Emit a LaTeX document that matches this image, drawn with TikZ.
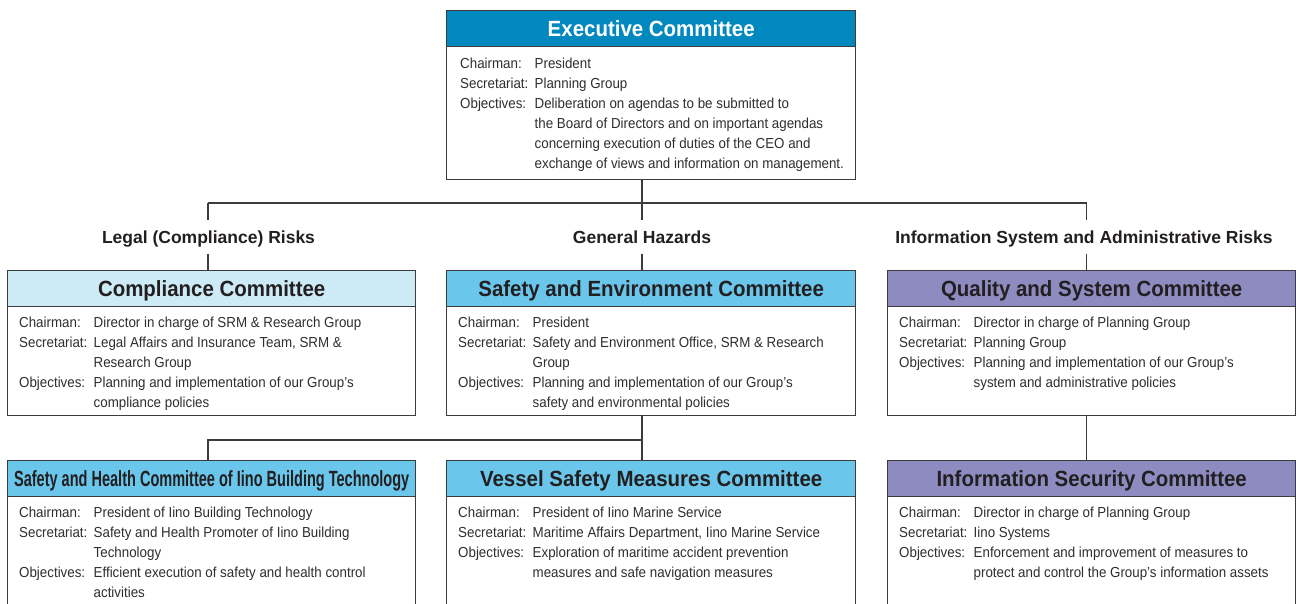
\documentclass[tikz,border=0pt]{standalone}
\usepackage{fontspec}
\usepackage{graphicx}
\setmainfont{Liberation Sans}
\newfontfamily\bodyfont{Liberation Sans}[FakeStretch=0.92]
\newfontfamily\headfont{Liberation Sans}[FakeStretch=0.93]

\definecolor{execblue}{HTML}{0088BF}
\definecolor{paleblue}{HTML}{CDEBF6}
\definecolor{skyblue}{HTML}{6AC7EB}
\definecolor{lavender}{HTML}{8D8BC0}
\definecolor{ink}{HTML}{231F20}
\definecolor{bodyink}{HTML}{2E2E2E}
\definecolor{rulegray}{HTML}{3C3C3C}

\tikzset{
  frame/.style={draw=rulegray, line width=1.4pt, fill=white, inner sep=0pt, anchor=north west},
  header/.style={draw=rulegray, line width=1.4pt, inner sep=0pt, anchor=north west,
    minimum height=36pt, text height=16pt, text depth=0pt,
    font=\headfont\bfseries\fontsize{22}{24}\selectfont},
  bodytext/.style={inner sep=0pt, anchor=base west, text=bodyink,
    font=\bodyfont\fontsize{14.5}{20}\selectfont},
  risk/.style={fill=white, inner sep=0pt, anchor=base, text height=23pt, text depth=10pt,
    text=ink, font=\bfseries\fontsize{17.5}{20}\selectfont},
  conn/.style={draw=rulegray, line width=1.4pt},
}

% offsets of the first text line from the header's lower left corner
\def\cmtdx{12}
\def\cmtdy{21}

% #1 name, #2 x, #3 y, #4 width, #5 height, #6 header fill, #7 title colour, #8 title, #9 rows
\newcommand{\committee}[9]{%
  \node[frame, minimum width=#4pt, minimum height=#5pt] (#1) at (#2,#3) {};
  \node[header, fill=#6, text=#7, minimum width=#4pt] (#1-head) at (#2,#3) {#8};
  \node[bodytext] (#1-text) at ([xshift=\cmtdx pt,yshift=-\cmtdy pt]#1-head.south west)
    {\begin{tabular}[t]{@{}p{74.5pt}@{}l@{}}#9\end{tabular}};
}

\begin{document}
\begin{tikzpicture}[x=1pt,y=-1pt]
\useasboundingbox (0,0) rectangle (1296,604);

% top level
\def\cmtdx{14}\def\cmtdy{21.5}
\committee{exec}{446}{10}{409}{169}{execblue}{white}{Executive Committee}{%
  Chairman: & President\\
  Secretariat: & Planning Group\\
  Objectives: & Deliberation on agendas to be submitted to\\
  & the Board of Directors and on important agendas\\
  & concerning execution of duties of the CEO and\\
  & exchange of views and information on management.}
\def\cmtdx{12}\def\cmtdy{20.5}

% second level
\committee{comp}{7}{270}{408}{145}{paleblue}{ink}{Compliance Committee}{%
  Chairman: & Director in charge of SRM \& Research Group\\
  Secretariat: & Legal Affairs and Insurance Team, SRM \&\\
  & Research Group\\
  Objectives: & Planning and implementation of our Group’s\\
  & compliance policies}

\committee{safe}{446}{270}{409}{145}{skyblue}{ink}{Safety and Environment Committee}{%
  Chairman: & President\\
  Secretariat: & Safety and Environment Office, SRM \& Research\\
  & Group\\
  Objectives: & Planning and implementation of our Group’s\\
  & safety and environmental policies}

\committee{qual}{887}{270}{408}{145}{lavender}{ink}{Quality and System Committee}{%
  Chairman: & Director in charge of Planning Group\\
  Secretariat: & Planning Group\\
  Objectives: & Planning and implementation of our Group’s\\
  & system and administrative policies}

% third level
\committee{shc}{7}{460}{408}{160}{skyblue}{ink}{\scalebox{0.71}[1]{Safety and Health Committee of Iino Building Technology}}{%
  Chairman: & President of Iino Building Technology\\
  Secretariat: & Safety and Health Promoter of Iino Building\\
  & Technology\\
  Objectives: & Efficient execution of safety and health control\\
  & activities}

\committee{vessel}{446}{460}{409}{160}{skyblue}{ink}{Vessel Safety Measures Committee}{%
  Chairman: & President of Iino Marine Service\\
  Secretariat: & Maritime Affairs Department, Iino Marine Service\\
  Objectives: & Exploration of maritime accident prevention\\
  & measures and safe navigation measures}

\committee{infosec}{887}{460}{408}{160}{lavender}{ink}{Information Security Committee}{%
  Chairman: & Director in charge of Planning Group\\
  Secretariat: & Iino Systems\\
  Objectives: & Enforcement and improvement of measures to\\
  & protect and control the Group’s information assets}

% branch points
\coordinate (tapL) at (208,203);
\coordinate (tapC) at (642,203);
\coordinate (tapR) at (1086.5,203);
\coordinate (tapB) at (642,440);

% risk category labels
\node[risk] (labL) at (208.5,243.5) {Legal (Compliance) Risks};
\node[risk] (labC) at (642,243.5) {General Hazards};
\node[risk] (labR) at (1084,243.5) {Information System and Administrative Risks};

% connectors
\draw[conn] (exec.south -| tapC) -- (tapC);
\draw[conn] (tapL) -- (tapR);
\draw[conn] (tapL) -- (tapL |- labL.north);
\draw[conn] (tapC) -- (tapC |- labC.north);
\draw[conn] (tapR) -- (tapR |- labR.north);
\draw[conn] (tapL |- labL.south) -- (tapL |- comp.north);
\draw[conn] (tapC |- labC.south) -- (tapC |- safe.north);
\draw[conn] (tapR |- labR.south) -- (tapR |- qual.north);

\draw[conn] (safe.south -| tapB) -- (tapB |- vessel.north);
\draw[conn] (tapB) -| (tapL |- shc.north);
\draw[conn] (qual.south -| tapR) -- (tapR |- infosec.north);
\end{tikzpicture}
\end{document}
